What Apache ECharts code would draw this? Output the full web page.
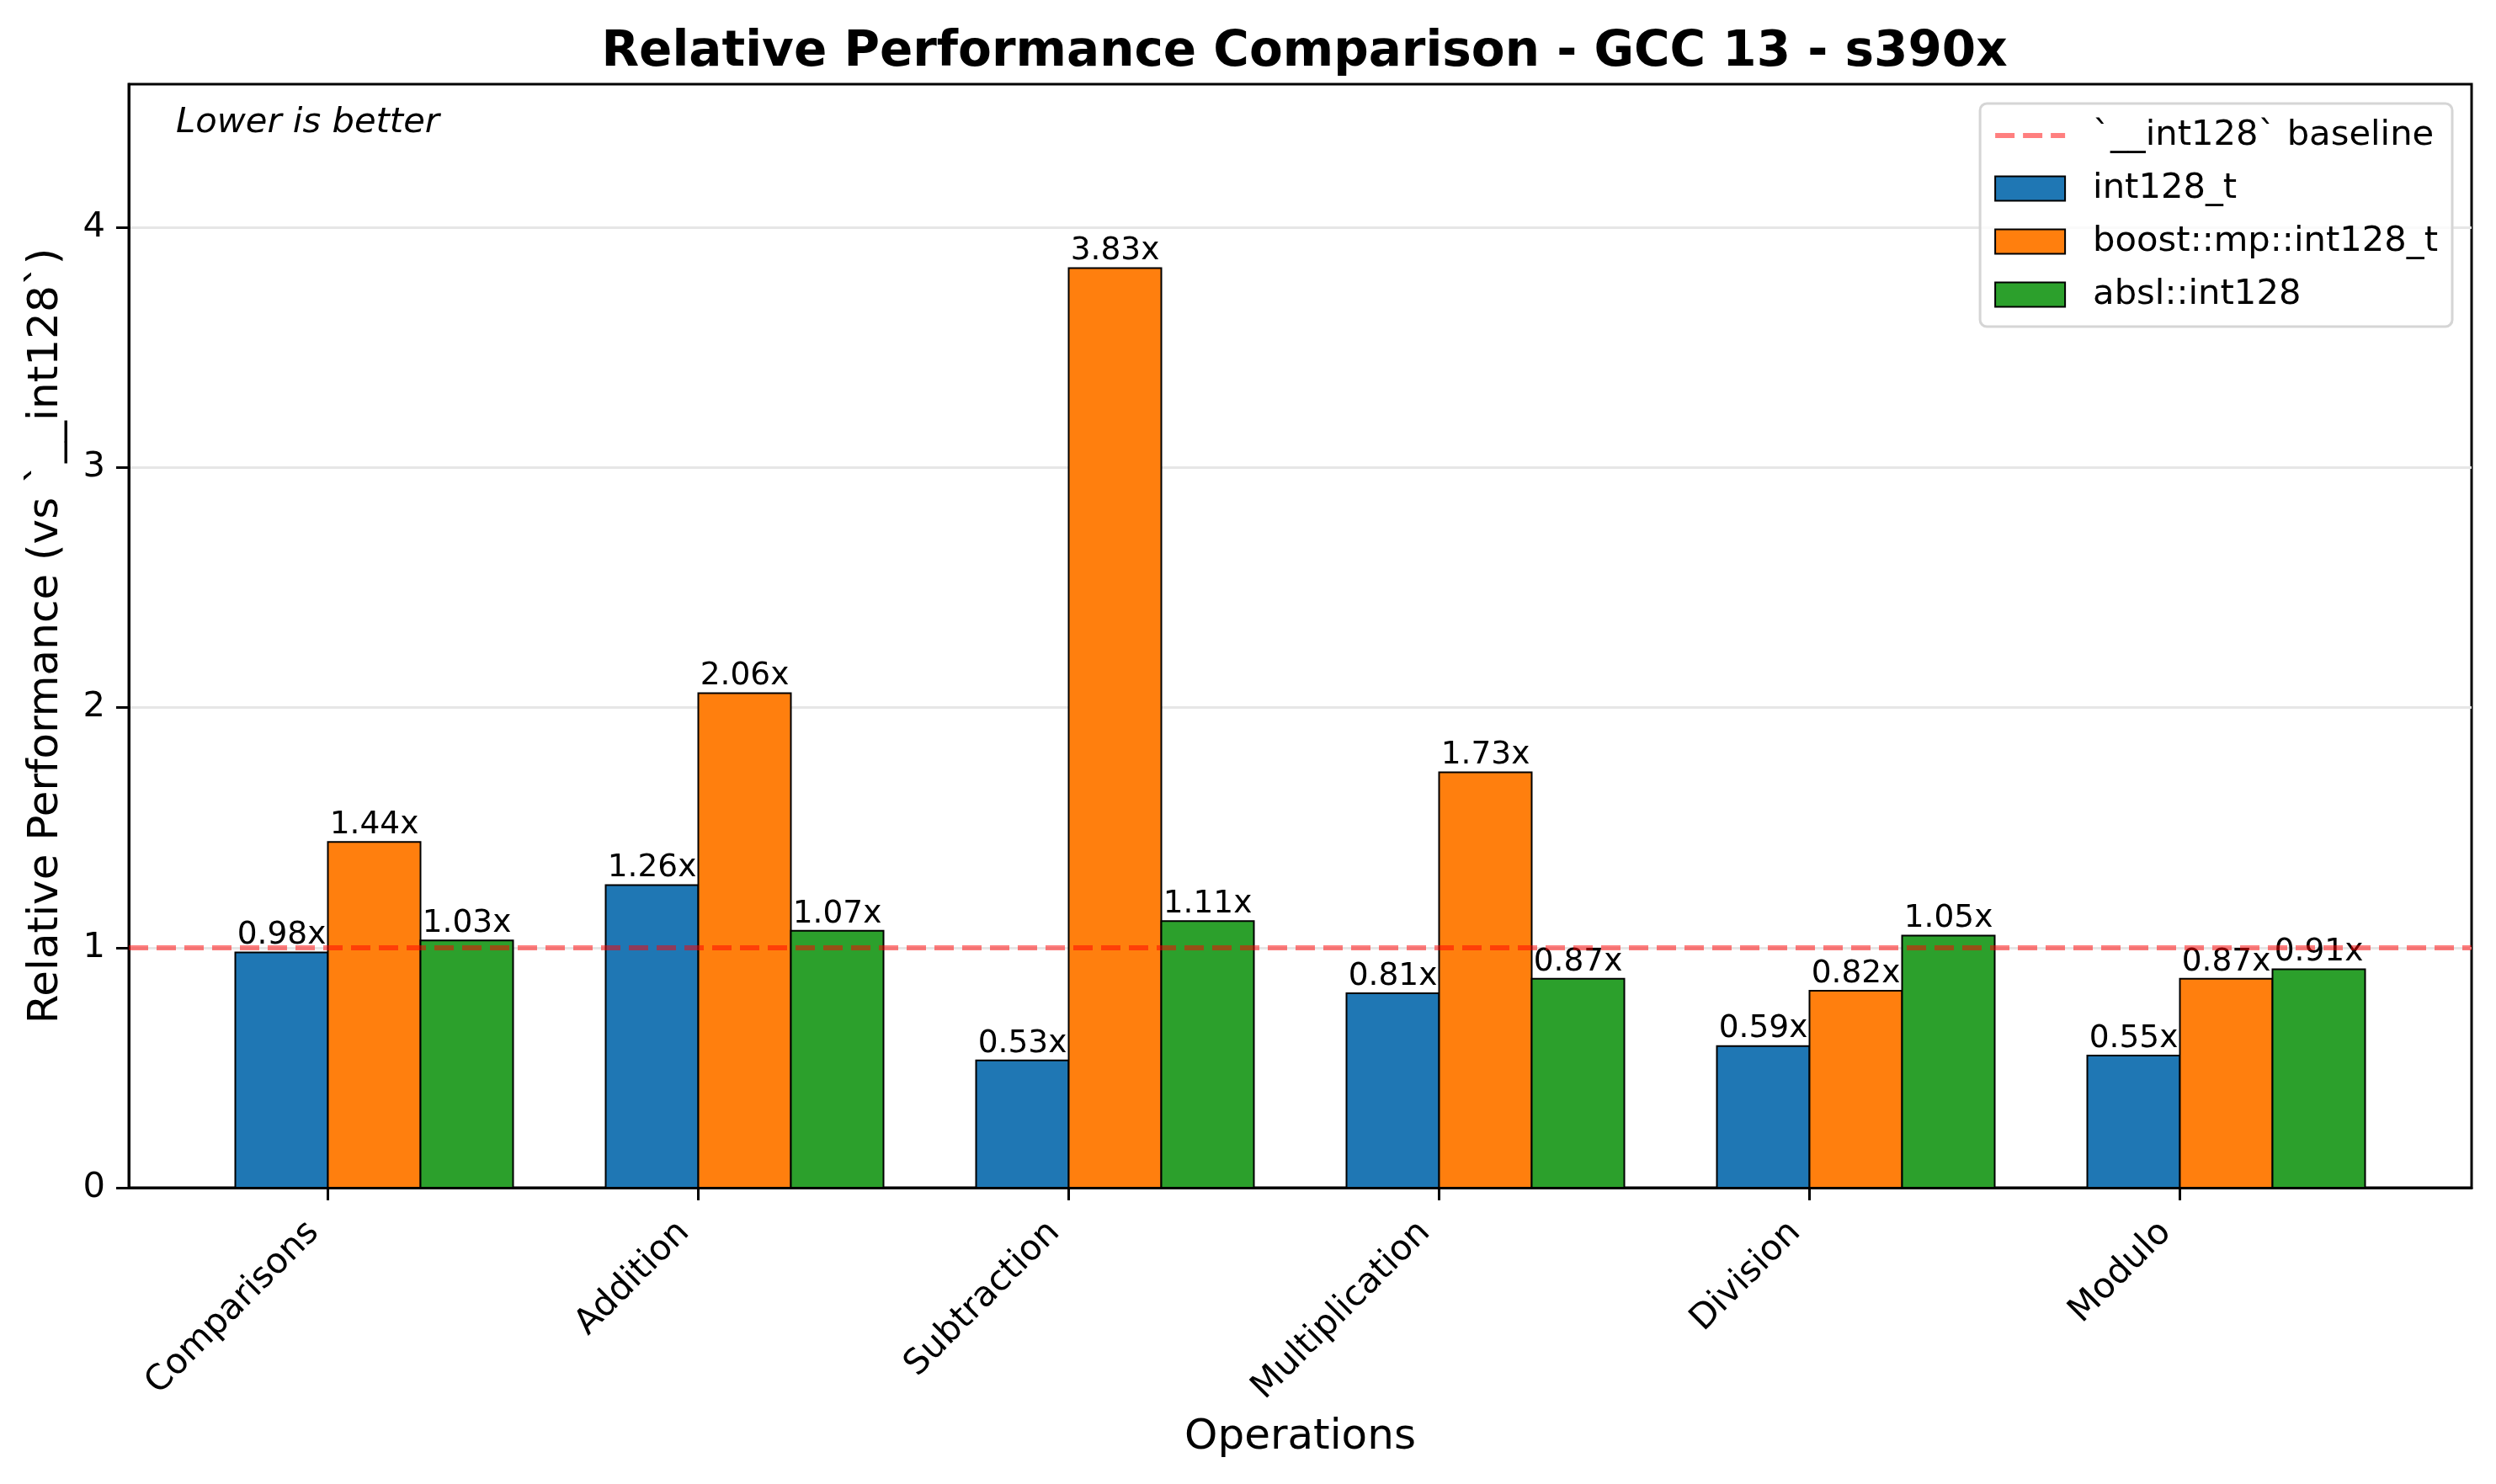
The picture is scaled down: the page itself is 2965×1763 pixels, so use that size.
<!DOCTYPE html>
<html><head><meta charset="utf-8">
<script src="https://cdn.jsdelivr.net/npm/echarts@6/dist/echarts.min.js"></script>
<style>html,body{margin:0;padding:0;background:#fff}#c{width:2965px;height:1763px}</style>
</head><body><div id="c"></div>
<script>
// ---- data ----
const CATEGORIES = ['Comparisons', 'Addition', 'Subtraction', 'Multiplication', 'Division', 'Modulo'];
const SERIES_NAMES = ['int128_t', 'boost::mp::int128_t', 'absl::int128'];
const INT128_T = [0.98, 1.26, 0.53, 0.81, 0.59, 0.55];
const BOOST_MP = [1.44, 2.06, 3.83, 1.73, 0.82, 0.87];
const ABSL = [1.03, 1.07, 1.11, 0.87, 1.05, 0.91];
const BASELINE = 1.0;
const BASELINE_NAME = '`__int128` baseline';
const Y_TICKS = [0, 1, 2, 3, 4];

// ---- styling / layout ----
const FONT = 'DejaVu Sans';
const COLORS = ['#1f77b4', '#ff7f0e', '#2ca02c'];
const BASE_COLOR = 'rgba(255,0,0,0.5)';
const BAR_W = 0.25;
const OFFSETS = [-0.125, 0.125, 0.375];
const SERIES_VALUES = [INT128_T, BOOST_MP, ABSL];
// dashed-line legend glyph (83 x 29 box)
const DASH_ICON = 'path://M0,0L0,0M83,29L83,29M0,11.5L23,11.5L23,17.5L0,17.5ZM33,11.5L56,11.5L56,17.5L33,17.5ZM66,11.5L83,11.5L83,17.5L66,17.5Z';

const left = Math.min(...OFFSETS) - BAR_W / 2;
const right = (CATEGORIES.length - 1) + Math.max(...OFFSETS) + BAR_W / 2;
const margin = 0.05 * (right - left);
const X_MIN = left - margin, X_MAX = right + margin;
const Y_MAX = Math.max(...INT128_T, ...BOOST_MP, ...ABSL) * 1.2;
const X_TICKS = CATEGORIES.map((_, i) => i);

function makeBarSeries(s) {
  return {
    type: 'custom',
    name: SERIES_NAMES[s],
    coordinateSystem: 'cartesian2d',
    clip: true,
    z: 2,
    itemStyle: { color: COLORS[s], borderColor: '#000', borderWidth: 2 },
    data: SERIES_VALUES[s].map((v, i) => [i + OFFSETS[s], v]),
    encode: { x: 0, y: 1 },
    renderItem: function (params, api) {
      const x = api.value(0), y = api.value(1);
      const p0 = api.coord([x - BAR_W / 2, 0]);
      const p1 = api.coord([x + BAR_W / 2, y]);
      return {
        type: 'group',
        children: [
          { type: 'rect',
            shape: { x: p0[0], y: p1[1], width: p1[0] - p0[0], height: p0[1] - p1[1] },
            style: { fill: COLORS[s], stroke: '#000', lineWidth: 2 } },
          { type: 'text', x: (p0[0] + p1[0]) / 2, y: p1[1] - 1,
            style: { text: y.toFixed(2) + 'x', fill: '#000', fontSize: 37.5, fontFamily: FONT,
                     align: 'center', verticalAlign: 'bottom' } }
        ]
      };
    }
  };
}

const baselineSeries = {
  type: 'line', name: BASELINE_NAME, data: [], symbol: 'none', showSymbol: false, z: 5,
  lineStyle: { color: BASE_COLOR, width: 6, type: [23, 10] },
  itemStyle: { color: BASE_COLOR },
  markLine: {
    silent: true, symbol: ['none', 'none'], label: { show: false }, z: 5,
    lineStyle: { color: BASE_COLOR, width: 6, type: [23, 10] },
    emphasis: { disabled: true },
    data: [{ yAxis: BASELINE }]
  }
};

const chart = echarts.init(document.getElementById('c'), null, { renderer: 'canvas' });
chart.setOption({
  animation: false,
  backgroundColor: '#fff',
  title: {
    text: 'Relative Performance Comparison - GCC 13 - s390x',
    left: 1544.5, top: 29, textAlign: 'center',
    textStyle: { fontFamily: FONT, fontSize: 58, fontWeight: 'bold', color: '#000' }
  },
  grid: { left: 153, right: 29, top: 100, bottom: 352, show: true, borderColor: '#000', borderWidth: 3, containLabel: false },
  legend: {
    orient: 'vertical', right: 52, top: 123, align: 'left',
    itemWidth: 83, itemHeight: 29, itemGap: 21,
    padding: 17, backgroundColor: 'rgba(255,255,255,0.8)', borderColor: '#d5d5d5', borderWidth: 3, borderRadius: 8,
    selectedMode: false,
    textStyle: { fontFamily: FONT, fontSize: 41.7, color: '#000', lineHeight: 42, padding: [0, 0, 0, 28] },
    data: [
      { name: BASELINE_NAME, icon: DASH_ICON, itemStyle: { color: BASE_COLOR, borderWidth: 0 } },
      { name: SERIES_NAMES[0], icon: 'rect', itemStyle: { color: COLORS[0], borderColor: '#000', borderWidth: 2 } },
      { name: SERIES_NAMES[1], icon: 'rect', itemStyle: { color: COLORS[1], borderColor: '#000', borderWidth: 2 } },
      { name: SERIES_NAMES[2], icon: 'rect', itemStyle: { color: COLORS[2], borderColor: '#000', borderWidth: 2 } }
    ]
  },
  graphic: [{
    type: 'text', left: 209, top: 125, z: 10,
    style: { text: 'Lower is better', fontFamily: FONT, fontSize: 41.7, fontStyle: 'italic', fill: '#000' }
  }],
  xAxis: {
    type: 'value', min: X_MIN, max: X_MAX,
    name: 'Operations', nameLocation: 'middle', nameGap: 272,
    nameTextStyle: { fontFamily: FONT, fontSize: 50, color: '#000' },
    axisLine: { show: true, onZero: false, lineStyle: { color: '#000', width: 3 } },
    axisTick: { show: true, customValues: X_TICKS, length: 15, lineStyle: { color: '#000', width: 3 } },
    axisLabel: { show: true, customValues: X_TICKS, rotate: 45, margin: 30, padding: [0, 24, 0, 0],
                 formatter: v => CATEGORIES[Math.round(v)] || '',
                 fontFamily: FONT, fontSize: 41.7, color: '#000' },
    splitLine: { show: false }
  },
  yAxis: {
    type: 'value', min: 0, max: Y_MAX, interval: 1,
    name: 'Relative Performance (vs `__int128`)', nameLocation: 'middle', nameGap: 73,
    nameTextStyle: { fontFamily: FONT, fontSize: 50, color: '#000' },
    axisLine: { show: true, onZero: false, lineStyle: { color: '#000', width: 3 } },
    axisTick: { show: true, customValues: Y_TICKS, length: 15, lineStyle: { color: '#000', width: 3 } },
    axisLabel: { show: true, customValues: Y_TICKS, margin: 28, fontFamily: FONT, fontSize: 41.7, color: '#000' },
    splitLine: { show: true, lineStyle: { color: '#e6e6e6', width: 3 } }
  },
  series: [makeBarSeries(0), makeBarSeries(1), makeBarSeries(2), baselineSeries]
});
</script></body></html>
